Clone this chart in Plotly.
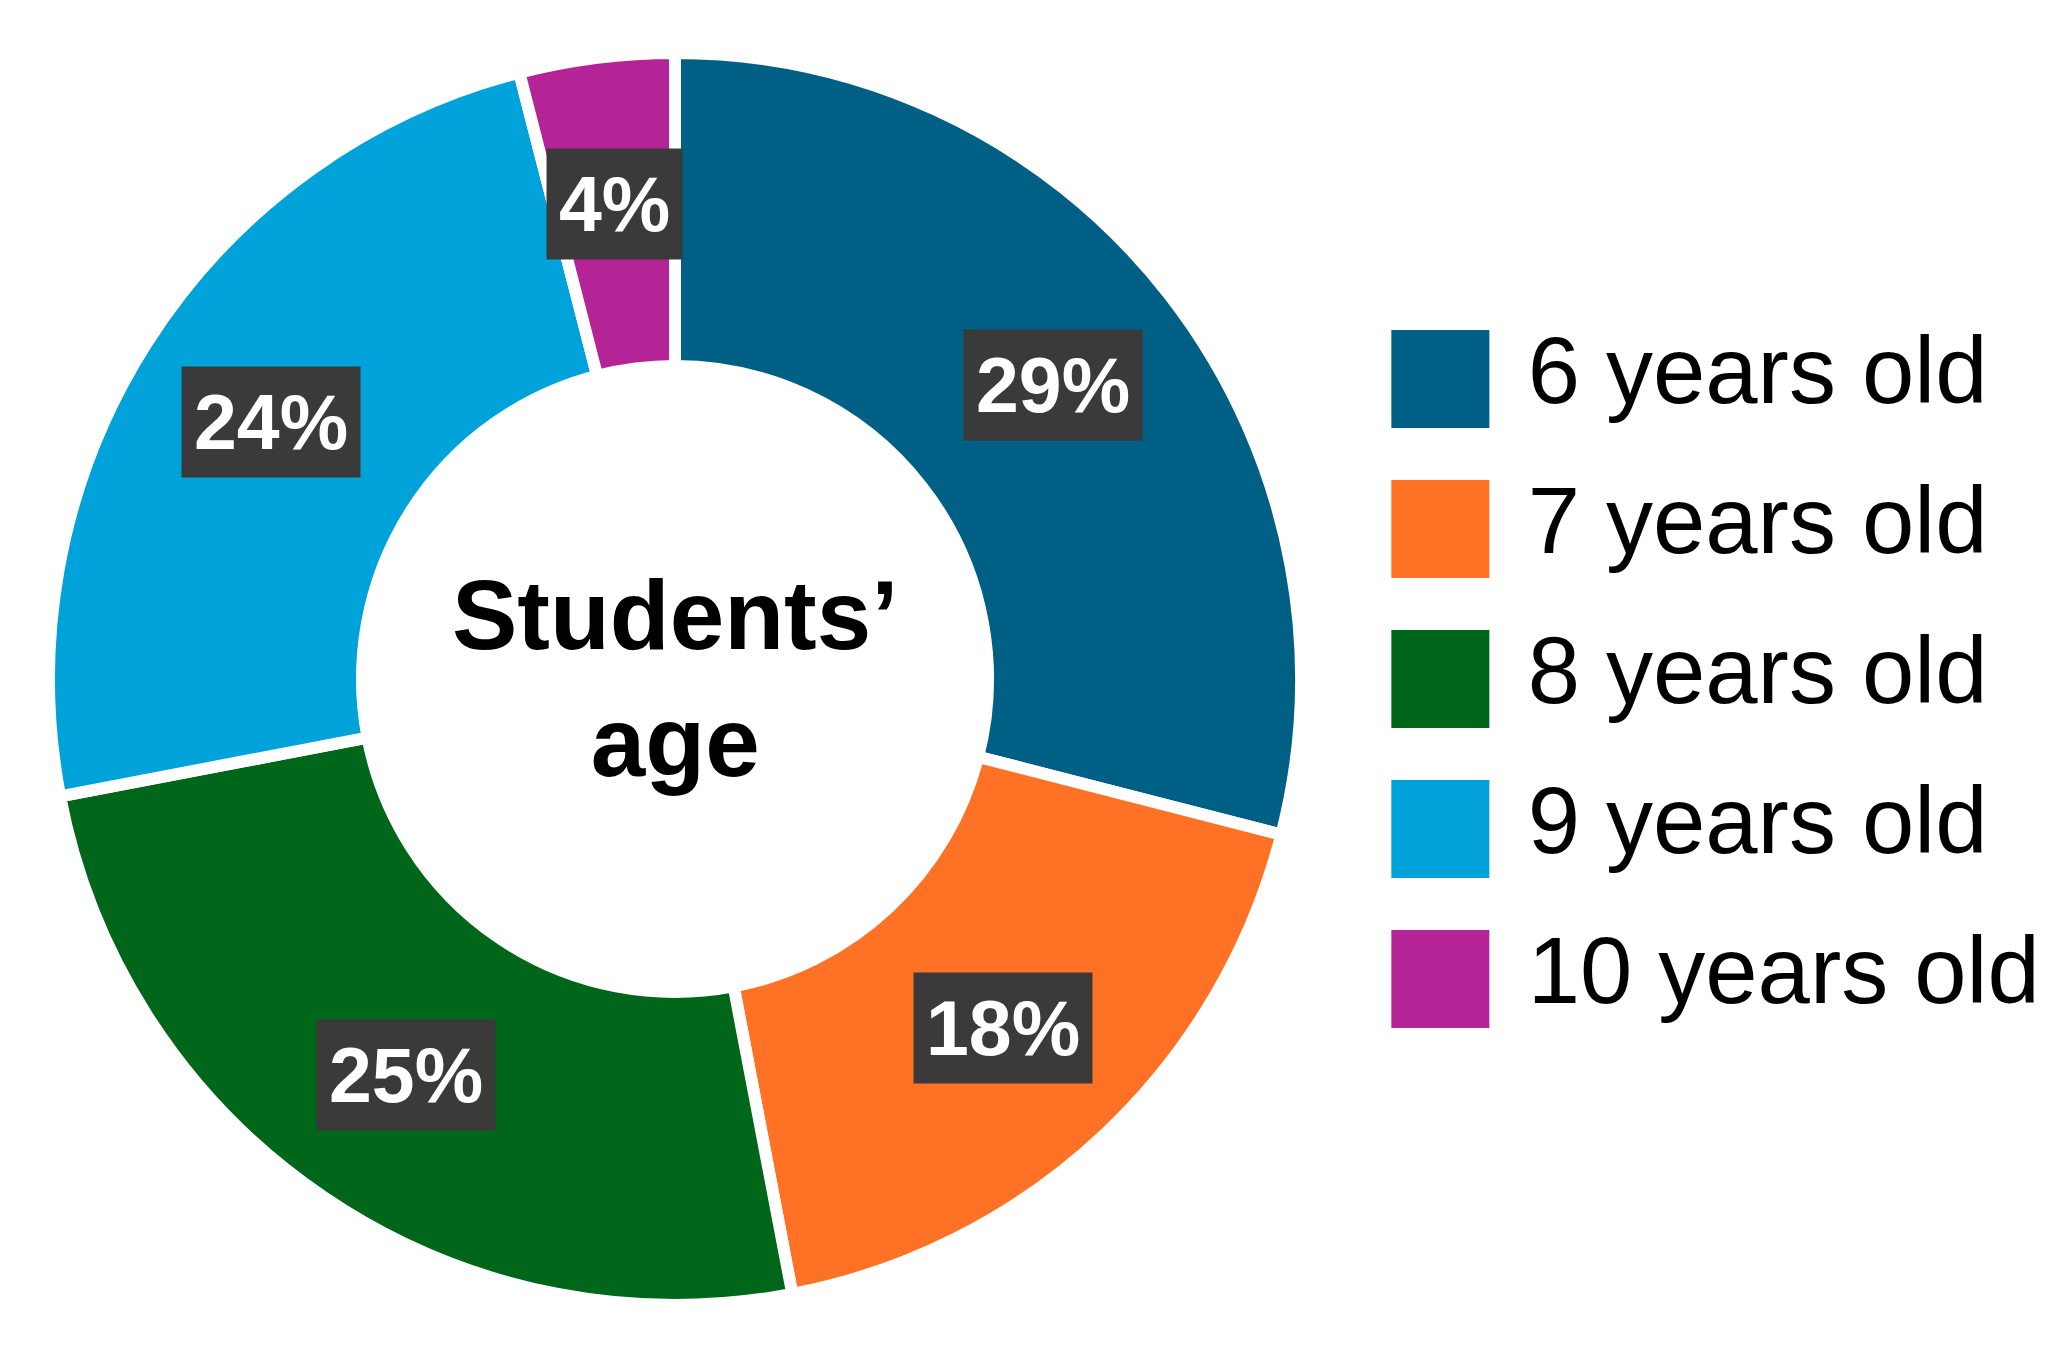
import numpy as np
import plotly.graph_objects as go

# dados do gráfico (faixa etária dos alunos)
idades = ["6 years old", "7 years old", "8 years old", "9 years old", "10 years old"]
percentuais = [29, 18, 25, 24, 4]
cores = ["#005F85", "#FF7226", "#00661A", "#00A3D9", "#B52496"]
rotulos = [f"{p}%" for p in percentuais]
titulo_centro = "Students’<br>age"

W, H = 2071, 1362
furo = 0.5

# domínio da rosca (quadrado em pixels)
cx_px, cy_px, raio_px = 667, 671, 626
dom_x = [(cx_px - raio_px) / W, (cx_px + raio_px) / W]
dom_y = [1 - (cy_px + raio_px) / H, 1 - (cy_px - raio_px) / H]

fig = go.Figure()

fig.add_trace(go.Pie(
    labels=idades,
    values=percentuais,
    hole=furo,
    sort=False,
    direction="clockwise",
    rotation=0,
    marker=dict(colors=cores, line=dict(color="white", width=12)),
    textinfo="none",
    domain=dict(x=dom_x, y=dom_y),
    showlegend=False,
))

# legenda feita com um scatter (quadrados grandes)
fig.add_trace(go.Scatter(
    x=[0.93] * len(idades), y=idades,
    mode="markers",
    marker=dict(symbol="square", size=98, color=cores, line=dict(width=0)),
    xaxis="x2", yaxis="y2", showlegend=False, hoverinfo="skip",
))
fig.add_trace(go.Scatter(
    x=[2.17] * len(idades), y=idades,
    mode="text",
    text=idades,
    textposition="middle right",
    textfont=dict(family="Liberation Sans, Arial", size=94, color="black"),
    xaxis="x2", yaxis="y2", showlegend=False, hoverinfo="skip",
))

# rótulos de porcentagem no meio de cada fatia
total = sum(percentuais)
acumulado = np.cumsum([0] + percentuais)
raio_rotulo = raio_px * 0.765
anotacoes = []
for i, txt in enumerate(rotulos):
    ang = np.deg2rad((acumulado[i] + percentuais[i] / 2) / total * 360)
    ax = (cx_px + raio_rotulo * np.sin(ang)) / W
    ay = 1 - (cy_px - raio_rotulo * np.cos(ang)) / H
    anotacoes.append(dict(
        x=ax, y=ay, xref="paper", yref="paper",
        text=f"<b>{txt}</b>", showarrow=False,
        xanchor="center", yanchor="middle",
        font=dict(family="Liberation Sans, Arial", size=77, color="white"),
        bgcolor="#3A3A3A", borderpad=12,
    ))

anotacoes.append(dict(
    x=cx_px / W, y=1 - cy_px / H, xref="paper", yref="paper",
    text=f"<b>{titulo_centro}</b>", showarrow=False,
    xanchor="center", yanchor="middle",
    font=dict(family="Liberation Sans, Arial", size=98, color="black"),
))

fig.update_layout(
    width=W, height=H,
    margin=dict(l=0, r=0, t=0, b=0),
    paper_bgcolor="white",
    plot_bgcolor="white",
    annotations=anotacoes,
    xaxis2=dict(domain=[0.66, 1.0], range=[0, 10], visible=False, anchor="y2"),
    yaxis2=dict(domain=[0.232, 0.7826], range=[4.5, -0.5], type="category",
                visible=False, anchor="x2"),
    xaxis=dict(visible=False),
    yaxis=dict(visible=False),
)

fig.write_html("out.html")
